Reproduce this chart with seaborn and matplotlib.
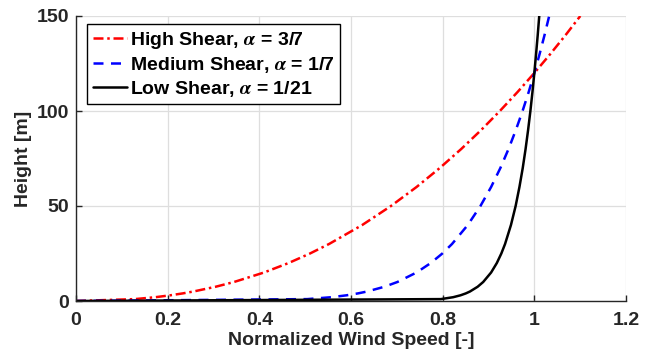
import matplotlib
matplotlib.use("Agg")
import matplotlib.pyplot as plt
import seaborn as sns
import pandas as pd

# Heights [m] at which the profiles were read
heights = [0, 1, 2, 3, 4, 5, 7.5, 10, 15, 20, 25, 30, 40, 50, 60, 70, 80,
           90, 100, 110, 120, 130, 140, 150]

# Normalized wind speed
high_shear = [0, 0.1285, 0.1730, 0.2058, 0.2328, 0.2562, 0.3047, 0.3447,
              0.4102, 0.4640, 0.5105, 0.5521, 0.6245, 0.6872, 0.7430, 0.7937,
              0.8405, 0.8840, 0.9248, 0.9634, 1.0, 1.0349, 1.0683, 1.1003]
medium_shear = [0, 0.5046, 0.5572, 0.5904, 0.6152, 0.6351, 0.6729, 0.7012,
                0.7430, 0.7741, 0.7993, 0.8204, 0.8548, 0.8824, 0.9057, 0.9259,
                0.9437, 0.9597, 0.9743, 0.9877, 1.0, 1.0115, 1.0223, 1.0324]
low_shear = [0, 0.7961, 0.8229, 0.8389, 0.8505, 0.8596, 0.8763, 0.8884,
             0.9057, 0.9182, 0.9280, 0.9361, 0.9490, 0.9592, 0.9675, 0.9747,
             0.9809, 0.9864, 0.9914, 0.9959, 1.0, 1.0038, 1.0074, 1.0107]

labels = [r"High Shear, $\alpha$ = 3/7",
          r"Medium Shear, $\alpha$ = 1/7",
          r"Low Shear, $\alpha$ = 1/21"]
x_ticks = [0, 0.2, 0.4, 0.6, 0.8, 1, 1.2]
x_tick_labels = ["0", "0.2", "0.4", "0.6", "0.8", "1", "1.2"]
y_ticks = [0, 50, 100, 150]

sns.set_style("ticks")
plt.rcParams["font.family"] = ["Liberation Sans", "DejaVu Sans"]
plt.rcParams["font.weight"] = "bold"
plt.rcParams["mathtext.fontset"] = "stix"

FS = 14
dark = "#262626"
fig = plt.figure(figsize=(6.52, 3.57), dpi=100)
ax = fig.add_axes([76 / 652, 1 - 301 / 357, 550 / 652, 285 / 357])

styles = [("red", (0, (4, 1.5, 1, 1.5))), ("blue", (0, (4, 3))), ("black", "-")]
for vals, lab, (col, ls) in zip([high_shear, medium_shear, low_shear], labels, styles):
    df = pd.DataFrame({"speed": vals, "height": heights})
    sns.lineplot(data=df, x="speed", y="height", sort=False, estimator=None,
                 color=col, linestyle=ls, linewidth=1.8, label=lab, ax=ax)

ax.set_xlim(0, 1.2)
ax.set_ylim(0, 150)
ax.set_xticks(x_ticks)
ax.set_xticklabels(x_tick_labels)
ax.set_yticks(y_ticks)
ax.grid(True, color="#dedede", linewidth=0.9)
ax.set_axisbelow(True)
for s in ["top", "right"]:
    ax.spines[s].set_visible(False)
for s in ["left", "bottom"]:
    ax.spines[s].set_color(dark)
    ax.spines[s].set_linewidth(1.0)
ax.tick_params(direction="in", length=4, width=1.0, color=dark,
               labelcolor=dark, labelsize=FS, pad=5)
ax.tick_params(axis="x", pad=8)
for t in ax.get_xticklabels() + ax.get_yticklabels():
    t.set_fontweight("bold")

ax.set_xlabel("Normalized Wind Speed [-]", fontsize=FS, fontweight="bold",
              color=dark, labelpad=2)
ax.set_ylabel("Height [m]", fontsize=FS, fontweight="bold", color=dark,
              labelpad=3)

leg = ax.legend(loc="upper left", bbox_to_anchor=(0.02, 0.972), fontsize=FS,
                frameon=True, fancybox=False, framealpha=1, edgecolor="black",
                handlelength=1.75, handletextpad=0.15, labelspacing=0.2,
                borderpad=0.3, borderaxespad=0.0)
leg.get_frame().set_linewidth(1.0)
for t in leg.get_texts():
    t.set_fontweight("bold")
    t.set_color("black")

fig.savefig("out.png", dpi=100)
